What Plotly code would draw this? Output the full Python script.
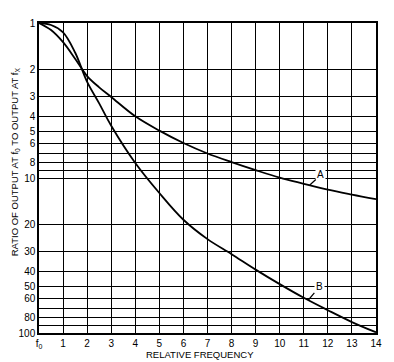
import plotly.graph_objects as go

# Data
freq = [0, 0.5, 1, 1.5, 2, 2.5, 3, 4, 5, 6, 7, 8, 9, 10, 11, 12, 13, 14]
curve_a = [1, 1.11, 1.33, 1.7, 2.2, 2.6, 3.0, 4.0, 4.95, 5.95, 6.95, 7.9, 8.9, 9.95, 10.9, 11.9, 12.8, 13.7]
curve_b = [1, 1.03, 1.15, 1.55, 2.4, 3.3, 4.6, 8.0, 12.5, 18.6, 24.8, 31.0, 39.0, 48.4, 59.3, 71.3, 85.0, 99.0]

x_tickvals = list(range(0, 15))
x_ticktext = ["f<sub>0</sub>"] + [str(i) for i in range(1, 15)]
y_tickvals = [1, 2, 3, 4, 5, 6, 7, 8, 9, 10, 20, 30, 40, 50, 60, 70, 80, 90, 100]
y_ticktext = ["1", "2", "3", "4", "5", "6", "", "8", "", "10", "20", "30", "40", "50", "60", "", "80", "", "100"]

FONT = "Liberation Sans, Arial, sans-serif"

fig = go.Figure()
fig.add_trace(go.Scatter(x=freq, y=curve_a, mode="lines",
                         line=dict(color="black", width=1.8, shape="spline", smoothing=1.0),
                         name="A", showlegend=False))
fig.add_trace(go.Scatter(x=freq, y=curve_b, mode="lines",
                         line=dict(color="black", width=1.8, shape="spline", smoothing=1.0),
                         name="B", showlegend=False))

# page body has an 8px margin, so the figure is sized/offset to compensate
fig.update_layout(
    width=386, height=354,
    margin=dict(l=31, r=18, t=9, b=29),
    paper_bgcolor="white", plot_bgcolor="white",
    font=dict(family=FONT, size=10, color="black"),
    showlegend=False,
)
fig.update_xaxes(
    range=[0, 14], tickvals=x_tickvals, ticktext=x_ticktext,
    showgrid=True, gridcolor="black", gridwidth=1.3,
    showline=True, linecolor="black", linewidth=1.5, mirror=True,
    ticks="", zeroline=False, tickfont=dict(family=FONT, size=10, color="black"),
)
fig.update_yaxes(
    type="log", range=[2, 0], tickvals=y_tickvals, ticktext=y_ticktext,
    showgrid=True, gridcolor="black", gridwidth=1.3,
    showline=True, linecolor="black", linewidth=1.5, mirror=True,
    ticks="", zeroline=False, tickfont=dict(family=FONT, size=10, color="black"),
)

fig.add_annotation(
    text="RATIO OF OUTPUT AT f<sub>0</sub> TO OUTPUT AT f<sub>X</sub>",
    xref="paper", yref="paper", x=-0.071, y=0.551, textangle=-90,
    showarrow=False, xanchor="center", yanchor="middle",
    font=dict(family=FONT, size=9.5, color="black"),
)
fig.add_annotation(
    text="RELATIVE FREQUENCY",
    xref="paper", yref="paper", x=0.478, y=-0.070,
    showarrow=False, xanchor="center", yanchor="middle",
    font=dict(family=FONT, size=9.5, color="black"),
)
fig.add_annotation(
    text="A", x=11.25, y=1.045, yref="y", xref="x",
    showarrow=True, arrowhead=0, arrowwidth=1.2, arrowcolor="black",
    ax=11, ay=-10, bgcolor="white", borderpad=1,
    font=dict(family=FONT, size=10, color="black"),
)
fig.add_annotation(
    text="B", x=11.19, y=1.787, yref="y", xref="x",
    showarrow=True, arrowhead=0, arrowwidth=1.2, arrowcolor="black",
    ax=11, ay=-13, bgcolor="white", borderpad=1,
    font=dict(family=FONT, size=10, color="black"),
)

fig.write_html("out.html")
